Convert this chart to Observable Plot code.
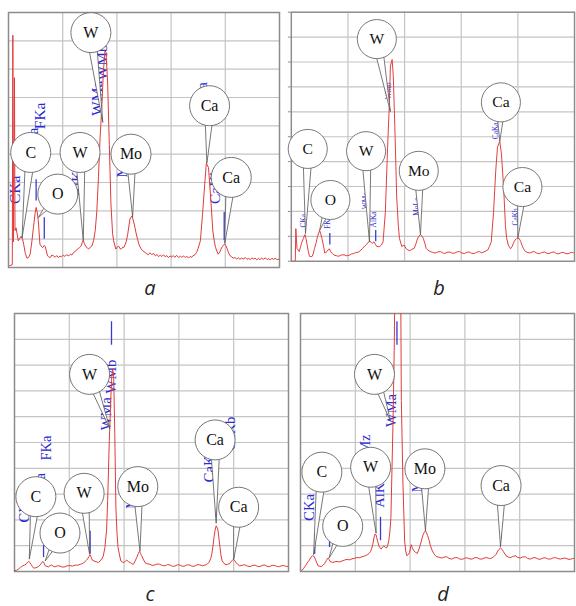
<!DOCTYPE html>
<html><head><meta charset="utf-8">
<script src="https://cdn.jsdelivr.net/npm/d3@7"></script>
<script src="https://cdn.jsdelivr.net/npm/@observablehq/plot@0.6"></script>
<style>
html,body{margin:0;padding:0;background:#fff;}
#page{position:relative;width:576px;height:606px;overflow:hidden;background:#fff;}
.panel{position:absolute;}
.lbl{position:absolute;font-family:"Open Sans",sans-serif;font-style:italic;font-size:20px;line-height:20px;color:#222;transform:translateX(-50%);}
</style></head><body><div id="page"></div>
<script>
// Energy grid (keV)
const energyTicks = [1, 2, 3, 4];
const panelNames = ["a", "b", "c", "d"];

// Spectra: [energy keV, counts in grid-row units]
const specA = [[0.02,0.06],[0.07,0.1],[0.08,8.2],[0.09,0.9],[0.11,6.7],[0.12,1.3],[0.14,1.4],[0.18,0.94],[0.23,1.1],[0.26,1.0],[0.28,0.82],[0.31,0.5],[0.34,0.33],[0.37,0.35],[0.40,0.47],[0.43,0.9],[0.46,1.41],[0.49,1.9],[0.51,2.12],[0.53,1.95],[0.55,1.65],[0.58,0.82],[0.6,0.76],[0.63,0.7],[0.66,0.78],[0.68,0.73],[0.72,0.41],[0.74,0.38],[0.77,0.35],[0.8,0.44],[0.83,0.41],[0.86,0.36],[0.89,0.42],[0.92,0.35],[0.95,0.4],[0.98,0.38],[1.01,0.44],[1.04,0.39],[1.07,0.45],[1.11,0.41],[1.14,0.47],[1.17,0.44],[1.2,0.53],[1.24,0.58],[1.27,0.65],[1.31,0.7],[1.34,0.76],[1.36,0.88],[1.38,0.96],[1.4,0.84],[1.43,0.73],[1.46,0.68],[1.48,0.65],[1.51,0.72],[1.54,0.76],[1.57,0.95],[1.6,1.3],[1.63,2.0],[1.66,3.2],[1.69,4.6],[1.72,5.6],[1.75,6.9],[1.78,7.65],[1.8,7.59],[1.83,6.47],[1.86,4.35],[1.89,2.24],[1.92,1.2],[1.94,0.94],[1.98,0.65],[2.0,0.7],[2.03,0.76],[2.06,0.66],[2.08,0.65],[2.11,0.72],[2.13,0.71],[2.17,0.9],[2.2,1.18],[2.24,1.71],[2.28,1.82],[2.32,1.53],[2.35,1.25],[2.38,1.0],[2.41,0.8],[2.44,0.68],[2.47,0.6],[2.5,0.56],[2.54,0.5],[2.58,0.45],[2.61,0.52],[2.64,0.46],[2.68,0.49],[2.71,0.41],[2.74,0.46],[2.77,0.38],[2.8,0.44],[2.83,0.39],[2.86,0.45],[2.89,0.38],[2.92,0.42],[2.95,0.35],[2.98,0.41],[3.01,0.37],[3.04,0.42],[3.07,0.36],[3.1,0.43],[3.14,0.35],[3.17,0.4],[3.2,0.36],[3.23,0.41],[3.26,0.35],[3.29,0.4],[3.32,0.33],[3.35,0.39],[3.38,0.36],[3.4,0.41],[3.44,0.45],[3.47,0.53],[3.5,0.68],[3.54,0.94],[3.58,1.88],[3.62,2.94],[3.65,3.68],[3.69,3.53],[3.73,2.47],[3.77,1.29],[3.8,0.9],[3.82,0.71],[3.85,0.55],[3.87,0.47],[3.9,0.55],[3.92,0.65],[3.95,0.75],[3.98,0.82],[4.01,0.78],[4.03,0.68],[4.06,0.52],[4.09,0.41],[4.12,0.37],[4.15,0.33],[4.18,0.35],[4.21,0.3],[4.24,0.34],[4.27,0.29],[4.3,0.33],[4.33,0.3],[4.37,0.35],[4.4,0.29],[4.43,0.32],[4.46,0.28],[4.49,0.34],[4.52,0.3],[4.55,0.33],[4.58,0.27],[4.61,0.32],[4.64,0.28],[4.67,0.33],[4.7,0.29],[4.74,0.34],[4.77,0.28],[4.8,0.31],[4.83,0.27],[4.86,0.32],[4.89,0.29],[4.92,0.32],[4.96,0.28],[5.0,0.29]];
const specB = [[0.0,0.0],[0.07,0.0],[0.08,1.31],[0.1,0.52],[0.12,0.45],[0.14,0.39],[0.16,0.55],[0.18,0.72],[0.21,0.9],[0.24,1.07],[0.26,0.9],[0.28,0.65],[0.3,0.4],[0.32,0.2],[0.35,0.18],[0.37,0.2],[0.39,0.33],[0.41,0.52],[0.44,0.75],[0.46,0.98],[0.5,1.24],[0.52,1.1],[0.54,0.92],[0.57,0.6],[0.59,0.33],[0.61,0.35],[0.63,0.39],[0.65,0.46],[0.67,0.5],[0.7,0.37],[0.73,0.3],[0.76,0.24],[0.8,0.22],[0.84,0.2],[0.88,0.25],[0.93,0.26],[0.97,0.22],[1.02,0.24],[1.06,0.29],[1.1,0.31],[1.14,0.35],[1.19,0.37],[1.23,0.45],[1.26,0.52],[1.3,0.62],[1.33,0.68],[1.38,0.81],[1.41,0.76],[1.43,0.72],[1.46,0.78],[1.49,0.66],[1.51,0.59],[1.56,0.59],[1.59,0.65],[1.62,0.78],[1.66,1.96],[1.7,4.58],[1.73,6.27],[1.75,7.84],[1.78,8.1],[1.8,7.45],[1.83,5.23],[1.86,2.61],[1.89,1.4],[1.91,0.92],[1.95,0.59],[1.99,0.65],[2.03,0.5],[2.06,0.45],[2.09,0.42],[2.13,0.48],[2.17,0.52],[2.2,0.7],[2.22,0.85],[2.25,1.0],[2.28,1.07],[2.31,1.0],[2.33,0.92],[2.36,0.7],[2.38,0.52],[2.41,0.45],[2.45,0.39],[2.49,0.36],[2.54,0.33],[2.58,0.37],[2.63,0.39],[2.67,0.34],[2.71,0.31],[2.75,0.36],[2.8,0.37],[2.84,0.32],[2.89,0.33],[2.93,0.38],[2.97,0.39],[3.01,0.33],[3.06,0.31],[3.1,0.36],[3.14,0.37],[3.18,0.32],[3.23,0.31],[3.27,0.36],[3.32,0.39],[3.36,0.34],[3.4,0.37],[3.44,0.42],[3.47,0.46],[3.5,0.6],[3.53,0.78],[3.57,1.96],[3.61,3.66],[3.64,4.58],[3.68,4.81],[3.71,4.31],[3.75,2.88],[3.78,1.44],[3.8,0.95],[3.83,0.65],[3.87,0.5],[3.9,0.6],[3.92,0.72],[3.95,0.85],[3.98,0.92],[4.02,0.92],[4.05,0.8],[4.07,0.65],[4.1,0.5],[4.12,0.42],[4.16,0.36],[4.21,0.33],[4.25,0.37],[4.29,0.39],[4.33,0.33],[4.38,0.3],[4.42,0.35],[4.47,0.37],[4.51,0.32],[4.55,0.31],[4.6,0.36],[4.64,0.37],[4.68,0.31],[4.72,0.3],[4.77,0.35],[4.81,0.35],[4.85,0.3],[4.9,0.31],[4.94,0.36],[4.98,0.34]];
const specC = [[0,0.03],[0.04,0.05],[0.07,0.09],[0.11,0.16],[0.15,0.22],[0.18,0.25],[0.21,0.28],[0.24,0.36],[0.26,0.39],[0.28,0.35],[0.3,0.28],[0.33,0.18],[0.35,0.13],[0.38,0.14],[0.41,0.16],[0.44,0.2],[0.47,0.26],[0.5,0.35],[0.52,0.39],[0.54,0.32],[0.56,0.22],[0.59,0.2],[0.62,0.18],[0.65,0.23],[0.68,0.25],[0.71,0.2],[0.74,0.18],[0.78,0.22],[0.83,0.21],[0.87,0.17],[0.92,0.18],[0.96,0.22],[1.01,0.23],[1.06,0.21],[1.11,0.25],[1.15,0.24],[1.2,0.28],[1.24,0.31],[1.27,0.35],[1.31,0.43],[1.33,0.48],[1.36,0.58],[1.38,0.65],[1.4,0.55],[1.42,0.44],[1.45,0.41],[1.47,0.39],[1.5,0.37],[1.53,0.35],[1.56,0.4],[1.59,0.48],[1.62,0.6],[1.65,0.93],[1.68,1.6],[1.7,2.75],[1.73,5.08],[1.75,6.24],[1.77,7.41],[1.79,7.86],[1.81,7.54],[1.83,5.34],[1.85,2.49],[1.87,1.5],[1.89,0.93],[1.92,0.6],[1.94,0.41],[1.97,0.36],[2.0,0.35],[2.03,0.42],[2.05,0.44],[2.08,0.38],[2.11,0.35],[2.14,0.3],[2.17,0.28],[2.2,0.4],[2.23,0.54],[2.26,0.7],[2.28,0.78],[2.3,0.7],[2.32,0.61],[2.35,0.48],[2.38,0.35],[2.42,0.3],[2.47,0.28],[2.51,0.24],[2.56,0.25],[2.6,0.29],[2.65,0.28],[2.7,0.23],[2.75,0.22],[2.79,0.27],[2.84,0.25],[2.88,0.2],[2.93,0.21],[2.97,0.26],[3.02,0.25],[3.06,0.2],[3.11,0.21],[3.15,0.26],[3.2,0.25],[3.24,0.2],[3.29,0.21],[3.33,0.26],[3.38,0.26],[3.43,0.22],[3.48,0.25],[3.52,0.3],[3.55,0.35],[3.58,0.5],[3.6,0.67],[3.62,0.95],[3.64,1.32],[3.66,1.6],[3.68,1.77],[3.71,1.65],[3.73,1.3],[3.75,0.93],[3.77,0.6],[3.79,0.41],[3.82,0.32],[3.86,0.26],[3.89,0.28],[3.93,0.31],[3.96,0.4],[3.99,0.47],[4.02,0.42],[4.04,0.35],[4.07,0.28],[4.11,0.22],[4.15,0.24],[4.2,0.26],[4.25,0.21],[4.3,0.19],[4.34,0.23],[4.39,0.25],[4.43,0.2],[4.48,0.19],[4.52,0.24],[4.57,0.25],[4.61,0.2],[4.66,0.19],[4.7,0.24],[4.75,0.23],[4.8,0.19],[4.84,0.19],[4.88,0.23],[4.93,0.22],[4.97,0.19],[5.0,0.21]];
const specD = [[0.02,0.03],[0.05,0.1],[0.09,0.22],[0.12,0.33],[0.16,0.44],[0.19,0.55],[0.22,0.61],[0.25,0.58],[0.27,0.48],[0.3,0.32],[0.32,0.22],[0.35,0.2],[0.38,0.19],[0.41,0.24],[0.44,0.31],[0.47,0.42],[0.5,0.52],[0.52,0.47],[0.54,0.39],[0.57,0.36],[0.59,0.35],[0.63,0.38],[0.67,0.39],[0.71,0.37],[0.76,0.41],[0.8,0.44],[0.85,0.47],[0.89,0.45],[0.94,0.49],[0.98,0.51],[1.03,0.54],[1.07,0.53],[1.12,0.57],[1.17,0.6],[1.22,0.65],[1.25,0.7],[1.28,0.78],[1.3,0.9],[1.32,1.06],[1.34,1.3],[1.36,1.45],[1.38,1.42],[1.39,1.32],[1.41,1.15],[1.43,1.0],[1.45,0.92],[1.47,0.87],[1.5,0.95],[1.52,1.0],[1.55,0.93],[1.57,0.91],[1.59,1.0],[1.61,1.19],[1.63,1.5],[1.65,2.1],[1.67,4.04],[1.69,5.98],[1.71,8.58],[1.72,10.5],[1.83,10.5],[1.84,6.63],[1.87,3.39],[1.9,1.19],[1.92,0.8],[1.94,0.61],[1.97,0.66],[1.99,0.74],[2.02,1.04],[2.04,0.92],[2.07,0.8],[2.1,0.74],[2.13,0.7],[2.16,0.85],[2.19,1.06],[2.22,1.3],[2.24,1.45],[2.26,1.52],[2.28,1.58],[2.3,1.5],[2.32,1.39],[2.35,1.2],[2.37,1.0],[2.4,0.83],[2.43,0.7],[2.46,0.62],[2.49,0.57],[2.53,0.55],[2.58,0.52],[2.62,0.56],[2.67,0.57],[2.71,0.51],[2.76,0.48],[2.81,0.53],[2.86,0.54],[2.9,0.49],[2.95,0.47],[3.0,0.52],[3.04,0.53],[3.08,0.49],[3.13,0.48],[3.17,0.53],[3.22,0.54],[3.26,0.49],[3.31,0.48],[3.35,0.52],[3.4,0.54],[3.45,0.5],[3.49,0.52],[3.53,0.58],[3.57,0.67],[3.61,0.83],[3.65,0.91],[3.68,0.85],[3.7,0.78],[3.73,0.68],[3.75,0.61],[3.79,0.56],[3.83,0.54],[3.87,0.58],[3.92,0.61],[3.96,0.55],[4.01,0.52],[4.05,0.56],[4.1,0.57],[4.14,0.51],[4.19,0.48],[4.24,0.53],[4.28,0.54],[4.33,0.49],[4.37,0.47],[4.42,0.52],[4.47,0.53],[4.51,0.49],[4.56,0.48],[4.6,0.52],[4.65,0.54],[4.7,0.5],[4.74,0.48],[4.79,0.51],[4.83,0.52],[4.88,0.48],[4.92,0.47],[4.96,0.5],[5.0,0.51]];

// Callouts: [element, peak keV, peak height, bubble keV, bubble height]
const bubblesA = [["C",0.25,1.04,0.41,4.06],["O",0.55,1.76,0.91,2.59],["W",1.38,0.94,1.32,4.06],["W",1.74,5.12,1.52,8.29],["Mo",2.29,1.79,2.26,4.0],["Ca",3.66,3.68,3.71,5.71],["Ca",3.99,0.85,4.11,3.18]];
const bubblesB = [["C",0.25,1.11,0.29,4.51],["O",0.5,1.24,0.69,2.46],["W",1.38,0.78,1.32,4.42],["W",1.75,6.01,1.51,8.92],["Mo",2.28,1.07,2.25,3.63],["Ca",3.68,4.81,3.7,6.38],["Ca",4.0,0.94,4.08,2.98]];
const bubblesC = [["C",0.27,0.48,0.39,2.9],["O",0.56,0.41,0.83,1.49],["W",1.37,0.67,1.27,3.03],["W",1.74,5.53,1.37,7.64],["Mo",2.29,0.78,2.25,3.29],["Ca",3.68,1.87,3.66,5.1],["Ca",4.0,0.47,4.09,2.49]];
const bubblesD = [["C",0.24,0.65,0.39,3.85],["O",0.52,0.52,0.77,1.75],["W",1.38,1.48,1.28,4.04],["W",1.64,5.85,1.35,7.64],["Mo",2.28,1.58,2.27,3.98],["Ca",3.65,0.96,3.66,3.33]];

// Blue line identifications: [label, keV, start height]
const tagsA = [["CKa",0.12,2.24],["OKa",0.46,3.9],["FKa",0.58,4.88],["AlKa",1.27,2.47],["WMa",1.63,5.35],["WMb",1.72,6.6],["MoLa",2.09,3.18],["CaKa",3.57,5.3],["CaKb",3.81,2.24]];
const tagsB = [["CKa",0.21,1.36],["FKa",0.64,1.3],["WMa",1.32,2.09],["AlKa",1.45,1.36],["WMb",1.72,6.5],["MoLa",2.21,1.83],["CaKa",3.6,4.9],["CaKb",3.96,1.44]];
const tagsC = [["CKa",0.18,1.9],["OKa",0.47,2.75],["FKa",0.59,4.3],["WMa",1.67,5.47],["WMb",1.76,6.9],["MoLa",2.13,2.42],["CaKa",3.55,3.46],["CaKb",3.93,4.69]];
const tagsD = [["CKa",0.16,1.97],["WMz",1.19,4.03],["AlKa",1.43,2.47],["WMa",1.66,5.6],["MoLa",2.13,3.07]];

// Blue line markers: [keV, from, to]
const markersA = [[0.51,2.35,3.1],[0.66,1.0,1.76],[3.98,0.94,1.94]];
const markersB = [[0.68,0.65,1.11],[1.49,0.78,1.24]];
const markersC = [[0.53,0.54,1.0],[1.38,0.67,1.56],[1.77,8.77,9.68],[3.68,2.1,2.75]];
const markersD = [[0.26,0.67,1.45],[0.53,0.93,1.26],[1.46,1.19,2.1],[1.76,8.77,9.68],[3.66,1.26,2.6]];

const panels = [
  {spec:specA, bubbles:bubblesA, tags:tagsA, markers:markersA, rows:9,  left:0,   top:0,   width:288, height:280, ml:8,  mr:9, mt:12, mb:13, tagSize:15.5, ticks:false, lx:150, ly:278},
  {spec:specB, bubbles:bubblesB, tags:tagsB, markers:markersB, rows:10, left:283, top:0,   width:300, height:280, ml:8,  mr:2, mt:12, mb:13, tagSize:7.5,  ticks:true,  lx:439, ly:278},
  {spec:specC, bubbles:bubblesC, tags:tagsC, markers:markersC, rows:10, left:0,   top:300, width:292, height:280, ml:14, mr:4, mt:13, mb:9,  tagSize:14.5, ticks:false, lx:150, ly:584},
  {spec:specD, bubbles:bubblesD, tags:tagsD, markers:markersD, rows:10, left:292, top:300, width:284, height:280, ml:8,  mr:2, mt:13, mb:9,  tagSize:14.5, ticks:false, lx:443, ly:584}
];

function wedgePts(bub, kx, ky, half) {
  return bub.flatMap((b, i) => {
    const dxp = (b.tx - b.bx) * kx, dyp = (b.ty - b.by) * ky;
    const L = Math.hypot(dxp, dyp);
    const nx = -dyp / L * half, ny = dxp / L * half;
    return [
      {id: i, x: b.bx + nx / kx, y: b.by + ny / ky},
      {id: i, x: b.tx, y: b.ty},
      {id: i, x: b.bx - nx / kx, y: b.by - ny / ky}
    ];
  });
}

const page = document.getElementById("page");
panels.forEach((p, k) => {
  const pw = p.width - p.ml - p.mr, ph = p.height - p.mt - p.mb;
  const kx = pw / 5, ky = ph / p.rows;
  const spec = p.spec.map(([x, y]) => ({x, y}));
  const bub = p.bubbles.map(([label, tx, ty, bx, by]) => ({label, tx, ty, bx, by}));
  const wed = wedgePts(bub, kx, ky, 5);
  const tags = p.tags.map(([t, x, y]) => ({t, x, y}));
  const mk = p.markers.map(([x, y1, y2]) => ({x, y1, y2}));
  const chart = Plot.plot({
    width: p.width, height: p.height,
    marginLeft: p.ml, marginRight: p.mr, marginTop: p.mt, marginBottom: p.mb,
    x: {domain: [0, 5], axis: null},
    y: p.ticks
      ? {domain: [0, p.rows], axis: "left", ticks: p.rows, tickSize: 3, tickFormat: () => "", label: null}
      : {domain: [0, p.rows], axis: null},
    style: {background: "transparent", overflow: "visible", color: "#888"},
    marks: [
      Plot.ruleX(energyTicks, {stroke: "#c4c4c4", strokeWidth: 1.2}),
      Plot.ruleY(d3.range(1, p.rows), {stroke: "#c4c4c4", strokeWidth: 1.2}),
      Plot.frame({stroke: "#8c8c8c", strokeWidth: 1.5}),
      Plot.ruleX(mk, {x: "x", y1: "y1", y2: "y2", stroke: "#3a3ad0", strokeWidth: 1.3}),
      Plot.text(tags, {x: "x", y: "y", text: "t", rotate: -90, textAnchor: "start", fill: "#2b2bd4", fontSize: p.tagSize, fontFamily: "Liberation Serif, Times New Roman, serif"}),
      Plot.line(spec, {x: "x", y: "y", stroke: "#e23a3a", strokeWidth: 1, clip: true}),
      Plot.line(wed, {x: "x", y: "y", z: "id", fill: "white", stroke: "#555", strokeWidth: 0.8}),
      Plot.dot(bub, {x: "bx", y: "by", r: 20, fill: "white", stroke: "#666", strokeWidth: 0.9}),
      Plot.text(bub, {x: "bx", y: "by", text: "label", fontSize: 16, fontFamily: "Liberation Serif, Times New Roman, serif", fill: "#111"})
    ]
  });
  const holder = document.createElement("div");
  holder.className = "panel";
  holder.style.left = p.left + "px";
  holder.style.top = p.top + "px";
  holder.appendChild(chart);
  page.appendChild(holder);
  const lbl = document.createElement("div");
  lbl.className = "lbl";
  lbl.style.left = p.lx + "px";
  lbl.style.top = p.ly + "px";
  lbl.textContent = panelNames[k];
  page.appendChild(lbl);
});
</script>
</body></html>
